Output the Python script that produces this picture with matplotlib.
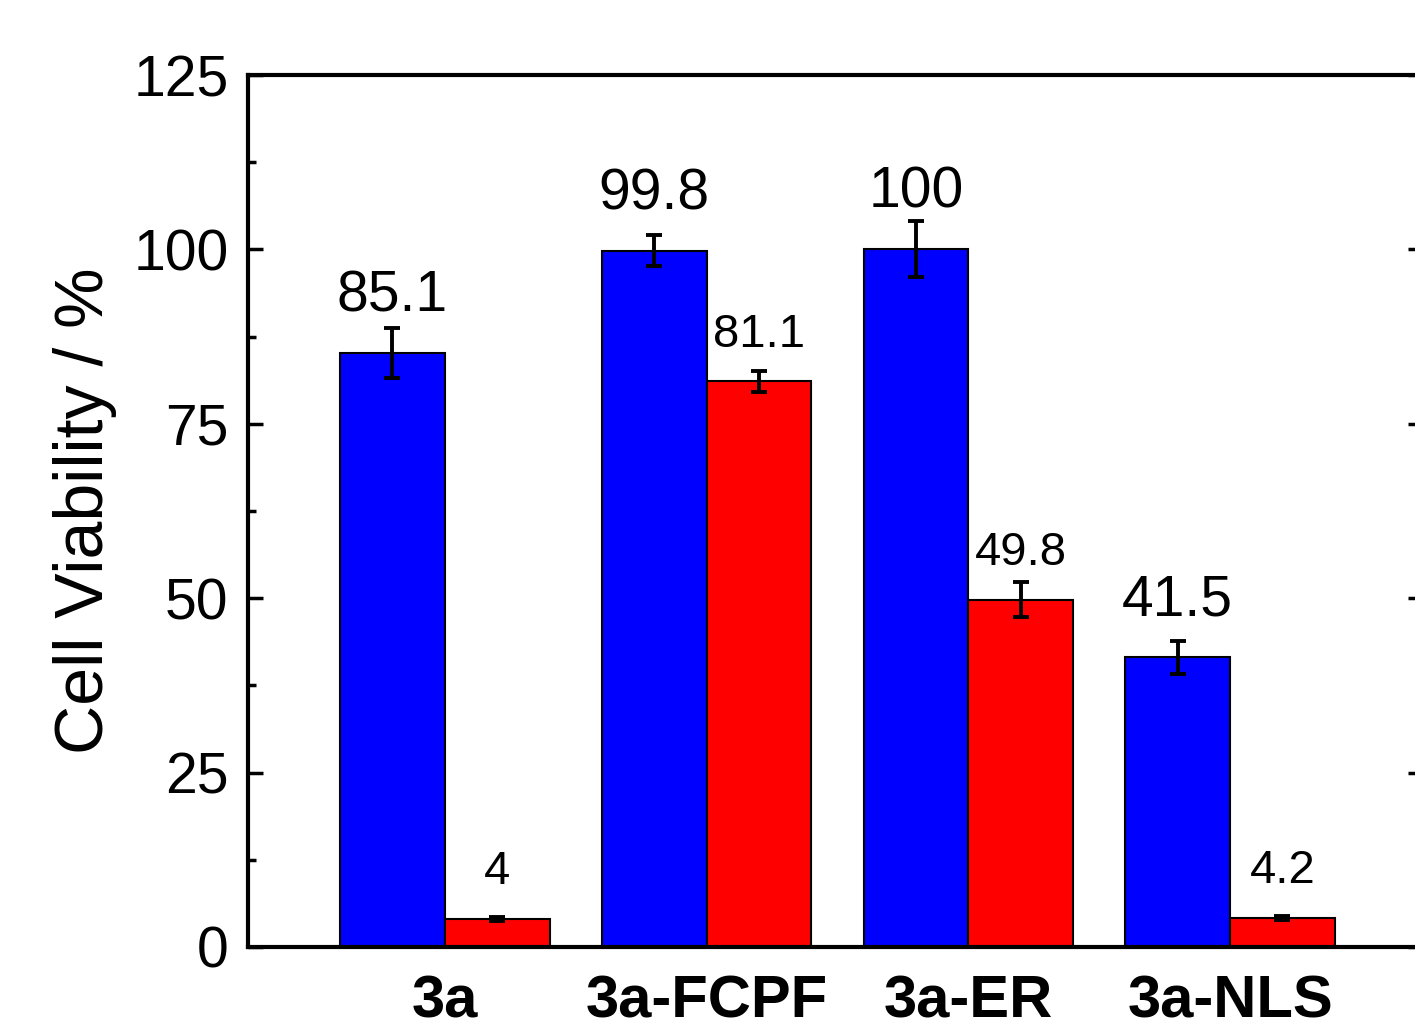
import matplotlib.pyplot as plt
import numpy as np

plt.rcParams["font.family"] = ["Liberation Sans", "DejaVu Sans"]

categories = ["3a", "3a-FCPF", "3a-ER", "3a-NLS"]
blue_values = [85.1, 99.8, 100, 41.5]
blue_errors = [3.6, 2.2, 4.0, 2.4]
red_values = [4, 81.1, 49.8, 4.2]
red_errors = [0.3, 1.5, 2.5, 0.3]
blue_labels = ["85.1", "99.8", "100", "41.5"]
red_labels = ["4", "81.1", "49.8", "4.2"]

BAR_WIDTH = 0.40
BLUE = "#0000FF"
RED = "#FF0000"

fig = plt.figure(figsize=(14.15, 10.26), dpi=100)
ax = fig.add_axes([248 / 1415, 79 / 1026, (1423 - 248) / 1415, 872 / 1026])

x = np.arange(len(categories))
err_kw = dict(ecolor="black", elinewidth=2.8, capsize=6, capthick=2.8)
ax.bar(x - BAR_WIDTH / 2, blue_values, BAR_WIDTH, color=BLUE, edgecolor="black",
       linewidth=1.5, yerr=blue_errors, error_kw=err_kw, zorder=2)
ax.bar(x + BAR_WIDTH / 2, red_values, BAR_WIDTH, color=RED, edgecolor="black",
       linewidth=1.5, yerr=red_errors, error_kw=err_kw, zorder=2)

for xi, v, lab in zip(x - BAR_WIDTH / 2, blue_values, blue_labels):
    ax.annotate(lab, (xi, v), xytext=(0, 30), textcoords="offset points",
                ha="center", va="baseline", fontsize=41)
for xi, v, lab in zip(x + BAR_WIDTH / 2, red_values, red_labels):
    ax.annotate(lab, (xi, v), xytext=(0, 25), textcoords="offset points",
                ha="center", va="baseline", fontsize=34)

ax.set_xlim(-0.752, 3.737)
ax.set_ylim(0, 125)
ax.set_xticks(x)
ax.set_xticklabels(categories, fontsize=43, fontweight="bold")
ax.tick_params(axis="x", length=0, pad=20)

ax.set_yticks([0, 25, 50, 75, 100, 125])
ax.set_yticks(np.arange(12.5, 125, 25), minor=True)
ax.tick_params(axis="y", which="major", direction="in", length=11, width=2.5,
               labelsize=41, pad=14, right=True)
ax.tick_params(axis="y", which="minor", direction="in", length=6, width=2.5)
ax.set_ylabel("Cell Viability / %", fontsize=49, labelpad=12)

for side in ["left", "right", "top", "bottom"]:
    ax.spines[side].set_linewidth(3)

fig.savefig("out.png", facecolor="white")
